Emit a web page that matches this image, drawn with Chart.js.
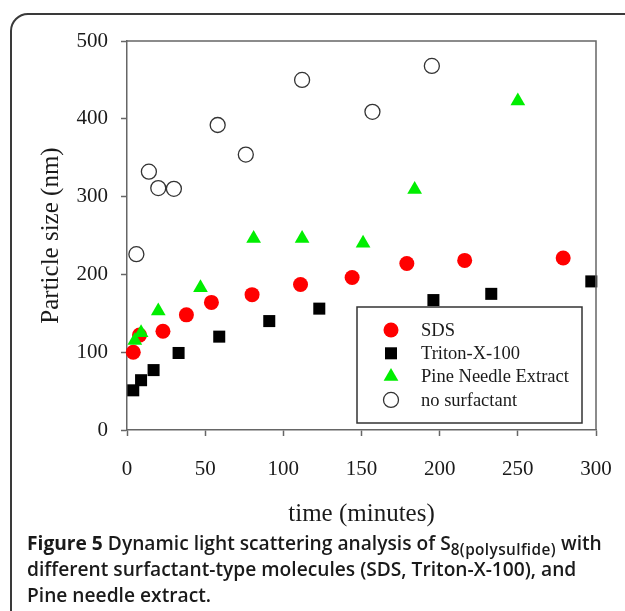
<!DOCTYPE html>
<html>
<head>
<meta charset="utf-8">
<script src="https://cdn.jsdelivr.net/npm/chart.js@4/dist/chart.umd.min.js"></script>
<style>
	html, body { margin: 0; padding: 0; background: #fff; overflow: hidden; }
	body { width: 625px; height: 611px; position: relative; }
	.frame {
		position: absolute; left: 10px; top: 13px; width: 700px; height: 700px;
		border: 2px solid #3a3a3a; border-radius: 18px; box-sizing: border-box;
	}
	#chart { position: absolute; left: 0; top: 0; }
	.caption {
		position: absolute; left: 27px; top: 530px; width: 595px;
		font-family: 'Open Sans', sans-serif; font-size: 19.2px; line-height: 26px;
		font-weight: 600; color: #1a1a1a; white-space: nowrap;
	}
	.caption b { font-weight: 700; }
	.caption sub { font-size: 0.8em; letter-spacing: 0.4px; line-height: 0; vertical-align: -0.3em; }
</style>
</head>
<body>
<div class="frame"></div>
<canvas id="chart" width="625" height="540"></canvas>
<div class="caption">
	<b>Figure 5</b> Dynamic light scattering analysis of S<sub>8(polysulfide)</sub> with<br>
	different surfactant-type molecules (SDS, Triton-X-100), and<br>
	Pine needle extract.
</div>
<script>
const sdsTime = [4, 8, 23, 38, 54, 80, 111, 144, 179, 216, 279];
const sdsSize = [100, 122, 127, 148, 164, 174, 187, 196, 214, 218, 221];

const tritonTime = [4, 9, 17, 33, 59, 91, 123, 196, 233, 297];
const tritonSize = [51, 64, 77, 99, 120, 140, 156, 167, 175, 191];

const pineTime = [5, 9, 20, 47, 81, 112, 151, 184, 250];
const pineSize = [115, 125, 153, 183, 246, 246, 240, 309, 423];

const noneTime = [6, 14, 20, 30, 58, 76, 112, 157, 195];
const noneSize = [226, 332, 311, 310, 392, 354, 450, 409, 468];

const xTicks = [0, 50, 100, 150, 200, 250, 300];
const yTicks = [0, 100, 200, 300, 400, 500];

const serif = "'Liberation Serif', 'Times New Roman', serif";
const axisColor = '#666';

function toPoints(xs, ys) {
	return xs.map((x, i) => ({ x, y: ys[i] }));
}

const series = [
	{ label: 'SDS', data: toPoints(sdsTime, sdsSize), pointStyle: 'circle', radius: 7.5, fill: '#ff0000', stroke: '#ff0000', width: 0, order: 2 },
	{ label: 'Triton-X-100', data: toPoints(tritonTime, tritonSize), pointStyle: 'rect', radius: 8.5, fill: '#000000', stroke: '#000000', width: 0, order: 3 },
	{ label: 'Pine Needle Extract', data: toPoints(pineTime, pineSize), pointStyle: 'triangle', radius: 8.5, fill: '#00ee00', stroke: '#00ee00', width: 0, order: 1 },
	{ label: 'no surfactant', data: toPoints(noneTime, noneSize), pointStyle: 'circle', radius: 7.5, fill: '#ffffff', stroke: '#333333', width: 1.3, order: 4 },
];

function drawMarker(ctx, s, x, y) {
	ctx.save();
	ctx.fillStyle = s.fill;
	ctx.strokeStyle = s.stroke;
	ctx.lineWidth = s.width;
	ctx.beginPath();
	if (s.pointStyle === 'circle') {
		ctx.arc(x, y, s.radius, 0, Math.PI * 2);
	} else if (s.pointStyle === 'rect') {
		const h = Math.SQRT1_2 * s.radius;
		ctx.rect(x - h, y - h, 2 * h, 2 * h);
	} else {
		const r = s.radius;
		ctx.moveTo(x, y - r);
		ctx.lineTo(x + r * Math.sin(Math.PI * 2 / 3), y - r * Math.cos(Math.PI * 2 / 3));
		ctx.lineTo(x + r * Math.sin(Math.PI * 4 / 3), y - r * Math.cos(Math.PI * 4 / 3));
		ctx.closePath();
	}
	ctx.fill();
	if (s.width > 0) ctx.stroke();
	ctx.restore();
}

// top/right plot border and the boxed legend inside the plot
const boxAndLegend = {
	id: 'boxAndLegend',
	afterDraw(chart) {
		const { ctx, chartArea: a } = chart;
		ctx.save();
		ctx.strokeStyle = axisColor;
		ctx.lineWidth = 1.5;
		ctx.beginPath();
		ctx.moveTo(a.left, a.top);
		ctx.lineTo(a.right, a.top);
		ctx.lineTo(a.right, a.bottom);
		ctx.stroke();

		const bx = a.right - 239;
		const by = a.bottom - 123;
		ctx.fillStyle = '#fff';
		ctx.fillRect(bx, by, 225, 116);
		ctx.strokeStyle = '#333';
		ctx.strokeRect(bx, by, 225, 116);

		ctx.font = '18.5px ' + serif;
		ctx.textBaseline = 'middle';
		ctx.fillStyle = '#1a1a1a';
		series.forEach((s, i) => {
			const y = by + 23 + i * 23.3;
			drawMarker(ctx, s, bx + 34, y);
			ctx.fillText(s.label, bx + 64, y + 1);
		});
		ctx.restore();
	},
};

new Chart(document.getElementById('chart'), {
	type: 'scatter',
	data: {
		datasets: series.map((s) => ({
			label: s.label,
			data: s.data,
			order: s.order,
			pointStyle: s.pointStyle,
			pointRadius: s.radius,
			pointBackgroundColor: s.fill,
			pointBorderColor: s.stroke,
			pointBorderWidth: s.width,
			pointHoverRadius: s.radius,
			clip: false,
		})),
	},
	options: {
		responsive: false,
		animation: false,
		layout: { padding: { left: 0, top: 41, right: 29, bottom: 11 } },
		plugins: {
			legend: { display: false },
			tooltip: { enabled: false },
		},
		scales: {
			x: {
				type: 'linear',
				min: xTicks[0],
				max: xTicks[xTicks.length - 1],
				afterBuildTicks: (scale) => { scale.ticks = xTicks.map((v) => ({ value: v })); },
				afterFit: (scale) => {
					scale.height = 99;
					scale.paddingLeft = 0;
					scale.paddingRight = 0;
				},
				border: { color: axisColor, width: 1.5 },
				grid: { drawOnChartArea: false, tickLength: 6, tickColor: axisColor, tickWidth: 1.5 },
				ticks: { padding: 21, color: '#1a1a1a', font: { family: serif, size: 21 } },
				title: { display: true, text: 'time (minutes)', color: '#1a1a1a', padding: { top: 0, bottom: 0 }, font: { family: serif, size: 25 } },
			},
			y: {
				type: 'linear',
				min: yTicks[0],
				max: yTicks[yTicks.length - 1],
				afterBuildTicks: (scale) => { scale.ticks = yTicks.map((v) => ({ value: v })); },
				afterFit: (scale) => {
					scale.width = 127;
					scale.paddingTop = 0;
					scale.paddingBottom = 0;
				},
				border: { color: axisColor, width: 1.5 },
				grid: { drawOnChartArea: false, tickLength: 6, tickColor: axisColor, tickWidth: 1.5 },
				ticks: { padding: 13, color: '#1a1a1a', font: { family: serif, size: 21 } },
				title: { display: true, text: 'Particle size (nm)', color: '#1a1a1a', padding: { top: 36, bottom: 0 }, font: { family: serif, size: 25 } },
			},
		},
	},
	plugins: [boxAndLegend],
});
</script>
</body>
</html>
